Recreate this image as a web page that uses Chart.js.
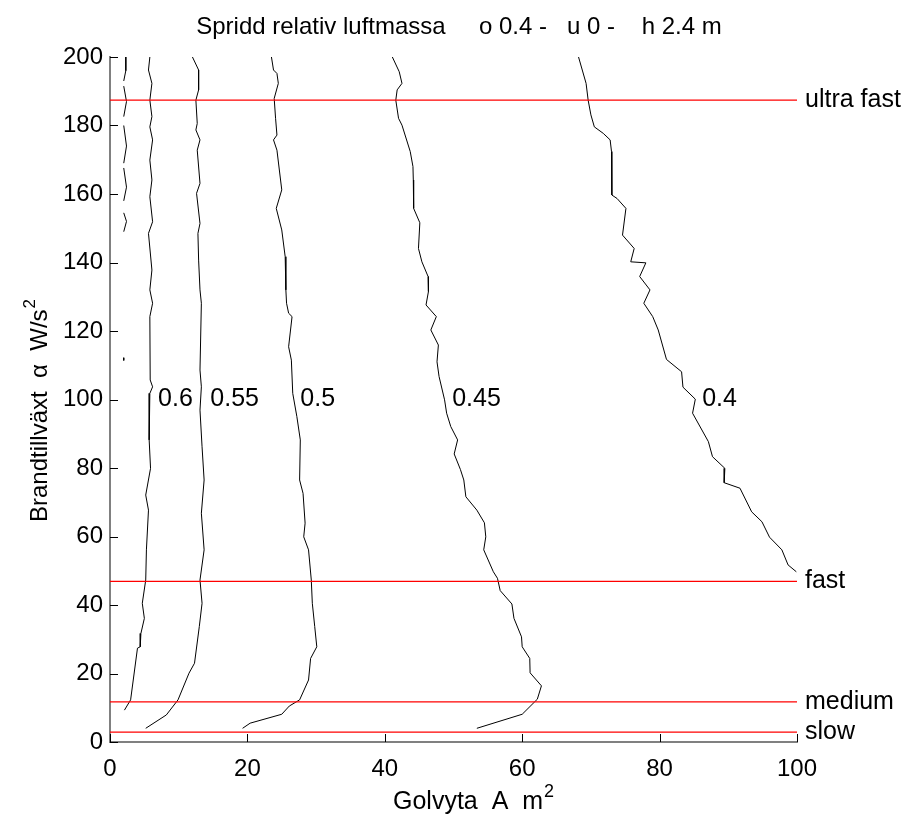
<!DOCTYPE html>
<html>
<head>
<meta charset="utf-8">
<script src="https://cdn.jsdelivr.net/npm/chart.js@4.4.1/dist/chart.umd.min.js"></script>
<style>
  html, body { margin: 0; padding: 0; background: #fff; }
  #wrap { width: 907px; height: 821px; }
</style>
</head>
<body>
<div id="wrap"><canvas id="chart"></canvas></div>
<script>
// contour lines, [area m2, alpha W/s2]
// the 0.65 level only shows as short broken pieces near the left axis
const c065a = [[2.3, 200], [2.3, 196], [2.0, 193]];
const c065b = [[2.0, 191.5], [2.4, 187], [2.0, 182.6]];
const c065c = [[2.0, 180], [2.4, 174], [2.0, 169]];
const c065d = [[2.0, 167.6], [2.4, 162], [2.0, 158]];
const c065e = [[2.0, 154.5], [2.4, 152], [2.0, 149]];
const c065f = [[2.0, 112.2], [2.0, 111.4]];
const c060 = [
  [5.8, 200], [5.6, 196.2], [6.1, 192.3], [5.8, 187.4], [6.1, 182.6], [5.8, 179.6],
  [6.2, 175.8], [5.8, 169.9], [6.1, 164.1], [5.8, 159.2], [6.2, 151.9], [5.6, 148.5],
  [6.1, 137.8], [5.8, 132], [6.2, 128.1], [5.8, 124.2], [5.85, 105.7], [6.2, 103.7],
  [5.8, 101.8], [5.7, 88.2], [5.9, 79.9], [5.2, 72.1], [5.6, 67.7], [5.3, 56.1],
  [5.2, 47.3], [4.7, 40.5], [5.0, 36.1], [4.5, 31.7], [4.4, 27.8], [4.0, 27.4],
  [3.0, 12.3], [2.1, 9.3]
];
const c055 = [
  [12.0, 200], [12.9, 196.2], [12.9, 190.4], [12.5, 187.4], [12.7, 180.6], [12.5, 178.7],
  [13.1, 175.8], [12.7, 172.8], [13.1, 163.1], [12.6, 160.2], [13.1, 151.4], [12.8, 148.5],
  [12.9, 140.7], [13.1, 132], [13.3, 128.1], [13.1, 108.6], [13.3, 103.7], [13.1, 96.9],
  [13.4, 86.2], [13.7, 76.5], [13.3, 66.8], [13.7, 56.1], [13.1, 47.3], [13.4, 40.5],
  [13.0, 33.7], [12.3, 23.0], [11.5, 20.1], [9.9, 12.3], [8.2, 7.9], [5.2, 4.0]
];
const c050 = [
  [23.5, 200], [23.8, 196.2], [24.3, 195.2], [24.5, 192.3], [23.9, 187.9], [24.1, 182.1],
  [24.3, 177.2], [23.8, 175.8], [24.3, 172.8], [25.0, 161.2], [24.2, 155.8], [25.0, 149.5],
  [25.5, 141.7], [25.6, 132], [25.7, 128.1], [26.0, 125.2], [26.5, 124.2], [26.0, 115.4],
  [26.4, 111.5], [26.6, 101.8], [27.2, 95.0], [27.7, 88.2], [27.6, 76.5], [28.1, 72.6],
  [28.4, 63.9], [28.2, 59.9], [28.9, 56.1], [29.3, 47.3], [29.45, 40.5], [29.8, 33.7],
  [30.1, 27.8], [29.2, 24.4], [28.9, 18.1], [27.6, 12.3], [26.1, 10.5], [25.0, 8.1],
  [20.4, 5.5], [19.3, 4.0]
];
const c045 = [
  [41.1, 200], [42.1, 195.7], [42.5, 192.3], [41.8, 190.4], [41.6, 187.4], [42.0, 182.1],
  [42.5, 180.1], [43.7, 172.4], [44.1, 168.0], [44.15, 164.1], [44.2, 155.8], [45.1, 151.6],
  [44.9, 144.1], [45.4, 140.2], [46.3, 135.9], [46.35, 131.5], [46.0, 127.6], [47.5, 124.2],
  [46.7, 120.3], [47.8, 115.9], [47.6, 111.0], [47.9, 106.7], [48.7, 99.9], [49.0, 96.0],
  [49.6, 92.1], [50.6, 88.2], [50.1, 84.1], [51.0, 79.6], [51.5, 76.5], [51.8, 71.6],
  [53.4, 67.7], [54.5, 64.0], [54.7, 59.9], [54.4, 56.1], [55.8, 49.7], [56.4, 47.8],
  [56.8, 44.2], [58.5, 40.3], [58.8, 36.1], [59.9, 30.7], [60.0, 27.8], [61.1, 24.4],
  [61.15, 20.2], [62.8, 16.4], [62.2, 12.5], [60.0, 8.1], [53.4, 4.0]
];
const c040 = [
  [68.2, 200], [69.3, 192.3], [69.6, 187.4], [70.0, 183.1], [70.5, 179.6], [71.8, 177.7],
  [72.8, 175.8], [73.0, 172.4], [73.05, 159.7], [73.8, 158.7], [75.1, 155.8], [74.6, 148.0],
  [76.3, 144.1], [75.8, 140.2], [78.0, 139.9], [77.1, 135.9], [78.6, 132.0], [77.7, 128.1],
  [79.0, 124.2], [79.8, 120.3], [81.0, 111.7], [83.2, 108.1], [83.4, 103.6], [85.2, 100.1],
  [84.8, 96.0], [87.1, 87.7], [87.7, 83.3], [89.5, 79.9], [89.4, 75.7], [91.7, 74.1],
  [93.4, 67.2], [94.9, 64.3], [96.0, 59.8], [97.8, 56.1], [98.7, 51.7], [99.9, 49.7]
];
const contours = [c065a, c065b, c065c, c065d, c065e, c065f, c060, c055, c050, c045, c040];

// contour labels: text, x, y
const contourLabels = ["0.6", "0.55", "0.5", "0.45", "0.4"];
const contourLabelX = [7.0, 14.6, 27.7, 49.8, 86.2];
const contourLabelY = [100, 100, 100, 100, 100];

// fire growth classes
const growthNames = ["ultra fast", "fast", "medium", "slow"];
const growthAlpha = [187.4, 46.9, 11.7, 2.9];

const xTicks = [0, 20, 40, 60, 80, 100];
const yTicks = [0, 20, 40, 60, 80, 100, 120, 140, 160, 180, 200];

const FONT = "Arial, 'Liberation Sans', sans-serif";

function toPts(arr) {
  return arr.map(p => ({ x: p[0], y: p[1] }));
}

const datasets = [];
contours.forEach(c => {
  datasets.push({
    data: toPts(c),
    borderColor: "#000",
    borderWidth: 1,
    pointRadius: 0,
    showLine: true,
    order: 2
  });
});
growthAlpha.forEach(a => {
  datasets.push({
    data: [{ x: 0, y: a }, { x: 100, y: a }],
    borderColor: "#ff0000",
    borderWidth: 1.2,
    pointRadius: 0,
    showLine: true,
    order: 0
  });
});

// text with a raised "2" after it, drawn left to right from x
function textWithSquare(ctx, text, x, y, size) {
  ctx.font = size + "px " + FONT;
  ctx.textAlign = "left";
  ctx.fillText(text, x, y);
  const w = ctx.measureText(text).width;
  ctx.font = Math.round(size * 0.7) + "px " + FONT;
  ctx.fillText("2", x + w + 1, y - size * 0.4);
  return w + ctx.measureText("2").width + 1;
}

const textPlugin = {
  id: "texts",
  afterDraw(chart) {
    const ctx = chart.ctx;
    const xs = chart.scales.x, ys = chart.scales.y;
    const area = chart.chartArea;
    ctx.save();

    // inward ticks
    ctx.strokeStyle = "#000";
    ctx.lineWidth = 1;
    xTicks.forEach(v => {
      const px = Math.round(xs.getPixelForValue(v)) + 0.5;
      ctx.beginPath(); ctx.moveTo(px, area.bottom); ctx.lineTo(px, area.bottom - 8); ctx.stroke();
    });
    yTicks.forEach(v => {
      const py = Math.round(ys.getPixelForValue(v)) + 0.5;
      ctx.beginPath(); ctx.moveTo(area.left, py); ctx.lineTo(area.left + 8, py); ctx.stroke();
    });

    ctx.fillStyle = "#000";
    ctx.textBaseline = "middle";

    // contour labels
    ctx.font = "25px " + FONT;
    ctx.textAlign = "left";
    contourLabels.forEach((t, i) => {
      ctx.fillText(t, xs.getPixelForValue(contourLabelX[i]), ys.getPixelForValue(contourLabelY[i]));
    });

    // growth class labels
    growthNames.forEach((t, i) => {
      ctx.fillText(t, area.right + 8, ys.getPixelForValue(growthAlpha[i]));
    });

    // title
    ctx.font = "24px " + FONT;
    ctx.textAlign = "center";
    ctx.fillText("Spridd relativ luftmassa     o 0.4 -   u 0 -    h 2.4 m", 459, 27);

    // x axis title
    textWithSquare(ctx, "Golvyta  A  m", 393, 802, 25);

    // y axis title
    ctx.translate(40, 522);
    ctx.rotate(-Math.PI / 2);
    textWithSquare(ctx, "Brandtillväxt  α  W/s", 0, 0, 24);
    ctx.restore();
  }
};

new Chart(document.getElementById("chart"), {
  type: "scatter",
  data: { datasets: datasets },
  options: {
    responsive: true,
    maintainAspectRatio: false,
    animation: false,
    layout: { padding: { left: 0, top: 57, right: 110, bottom: 0 } },
    plugins: {
      legend: { display: false },
      tooltip: { enabled: false }
    },
    scales: {
      x: {
        type: "linear",
        min: 0,
        max: 100,
        afterFit(scale) { scale.height = 79; },
        grid: { display: false, drawTicks: false },
        border: { display: true, color: "#808080", width: 2 },
        ticks: {
          stepSize: 20,
          padding: 13,
          color: "#000",
          font: { size: 24, family: FONT }
        }
      },
      y: {
        type: "linear",
        min: 0,
        max: 200,
        afterFit(scale) { scale.width = 110; },
        grid: { display: false, drawTicks: false },
        border: { display: true, color: "#808080", width: 2 },
        ticks: {
          stepSize: 20,
          padding: 7,
          color: "#000",
          font: { size: 24, family: FONT }
        }
      }
    }
  },
  plugins: [textPlugin]
});
</script>
</body>
</html>
